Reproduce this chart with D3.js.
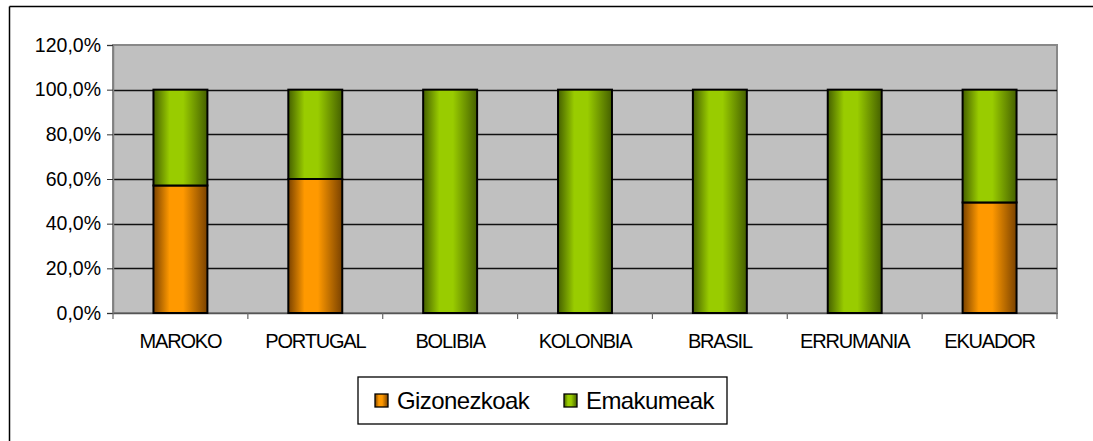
<!DOCTYPE html>
<html>
<head>
<meta charset="utf-8">
<script src="https://cdn.jsdelivr.net/npm/d3@7"></script>
<style>
  body { margin: 0; background: #fff; }
  text { font-family: "Liberation Sans", Arial, sans-serif; fill: #000; }
</style>
</head>
<body>
<div id="chart"></div>
<script>
// data
var countries = ["MAROKO", "PORTUGAL", "BOLIBIA", "KOLONBIA", "BRASIL", "ERRUMANIA", "EKUADOR"];
var gizonezkoak = [57.1, 60.0, 0, 0, 0, 0, 49.5];
var emakumeak = [42.9, 40.0, 100, 100, 100, 100, 50.5];
var seriesNames = ["Gizonezkoak", "Emakumeak"];
var yTicks = [0, 20, 40, 60, 80, 100, 120];

var W = 1093, H = 441;
var plot = {left: 113, top: 45, right: 1057, bottom: 313};

var svg = d3.select("#chart").append("svg")
  .attr("width", W).attr("height", H);

// gradients for the cylinder look
var defs = svg.append("defs");
var grads = [
  {id: "gOrange", dark: "#7a4200", light: "#ff9900"},
  {id: "gGreen", dark: "#456000", light: "#99cc00"}
];
grads.forEach(function(g) {
  var lg = defs.append("linearGradient").attr("id", g.id)
    .attr("x1", "0%").attr("x2", "100%").attr("y1", "0%").attr("y2", "0%");
  lg.append("stop").attr("offset", "0%").attr("stop-color", g.dark);
  lg.append("stop").attr("offset", "30%").attr("stop-color", g.light);
  lg.append("stop").attr("offset", "55%").attr("stop-color", g.light);
  lg.append("stop").attr("offset", "100%").attr("stop-color", g.dark);
});
var fills = ["url(#gOrange)", "url(#gGreen)"];

// outer frame: only top and left edges visible
svg.append("line").attr("x1", 9.5).attr("x2", W).attr("y1", 6.5).attr("y2", 6.5)
  .style("stroke", "#000").style("stroke-width", 1.5);
svg.append("line").attr("x1", 9.5).attr("x2", 9.5).attr("y1", 6.5).attr("y2", H)
  .style("stroke", "#000").style("stroke-width", 1.5);

var x = d3.scaleBand().domain(countries)
  .range([plot.left, plot.right]).paddingInner(0.6).paddingOuter(0.3);
var xb = d3.scaleBand().domain(countries).range([plot.left, plot.right]);
var y = d3.scaleLinear().domain([0, 120]).range([plot.bottom, plot.top]);

// plot background
svg.append("rect")
  .attr("x", plot.left).attr("y", plot.top)
  .attr("width", plot.right - plot.left).attr("height", plot.bottom - plot.top)
  .style("fill", "#c0c0c0").style("stroke", "#888").style("stroke-width", 2);

// gridlines
svg.append("g").selectAll("line")
  .data(yTicks.filter(function(d) { return d > 0 && d < 120; }))
  .enter().append("line")
  .attr("x1", plot.left).attr("x2", plot.right)
  .attr("y1", function(d) { return Math.round(y(d)) + 0.5; })
  .attr("y2", function(d) { return Math.round(y(d)) + 0.5; })
  .style("stroke", "#111").style("stroke-width", 1.3);

// y axis
var yAxis = svg.append("g")
  .attr("transform", "translate(" + plot.left + ",0)")
  .call(d3.axisLeft(y).tickValues(yTicks).tickSize(6).tickPadding(6)
    .tickFormat(function(d) { return d.toFixed(1).replace(".", ",") + "%"; }));
yAxis.select(".domain").style("stroke", "#808080").style("stroke-width", 1.5);
yAxis.selectAll(".tick line").style("stroke", "#333");
yAxis.selectAll("text").style("font-size", "19.5px").style("font-family", "Liberation Sans, Arial, sans-serif");

// x axis
var xAxis = svg.append("g")
  .attr("transform", "translate(0," + plot.bottom + ")")
  .call(d3.axisBottom(xb).tickSize(0).tickPadding(21));
xAxis.select(".domain").style("stroke", "#555").style("stroke-width", 1.5);
xAxis.selectAll("text").style("font-size", "20px").style("letter-spacing", "-1.2px")
  .style("font-family", "Liberation Sans, Arial, sans-serif");
// ticks between categories
svg.append("g").selectAll("line")
  .data(countries.concat(["end"]))
  .enter().append("line")
  .attr("x1", function(d, i) { return i < countries.length ? xb(d) : plot.right; })
  .attr("x2", function(d, i) { return i < countries.length ? xb(d) : plot.right; })
  .attr("y1", plot.bottom).attr("y2", plot.bottom + 6)
  .style("stroke", "#666").style("stroke-width", 1.2);

// stacked bars
var rows = countries.map(function(c, i) {
  return {country: c, Gizonezkoak: gizonezkoak[i], Emakumeak: emakumeak[i]};
});
var stack = d3.stack().keys(seriesNames)(rows);

svg.append("g").selectAll("g")
  .data(stack).enter().append("g")
  .style("fill", function(d, i) { return fills[i]; })
  .selectAll("rect")
  .data(function(d) { return d.filter(function(p) { return p[1] - p[0] > 0; }); })
  .enter().append("rect")
  .attr("x", function(d) { return x(d.data.country); })
  .attr("width", x.bandwidth())
  .attr("y", function(d) { return y(d[1]); })
  .attr("height", function(d) { return y(d[0]) - y(d[1]); })
  .style("stroke", "#000").style("stroke-width", 2);

// legend
var legend = svg.append("g");
legend.append("rect")
  .attr("x", 358).attr("y", 377).attr("width", 369).attr("height", 47)
  .style("fill", "#fff").style("stroke", "#000").style("stroke-width", 1.3);
var items = legend.selectAll("g.item")
  .data(seriesNames).enter().append("g")
  .attr("transform", function(d, i) { return "translate(" + (375 + i * 189) + ",394)"; });
items.append("rect")
  .attr("width", 13).attr("height", 13)
  .style("fill", function(d, i) { return fills[i]; })
  .style("stroke", "#000").style("stroke-width", 1.3);
items.append("text")
  .attr("x", 22).attr("y", 14.5)
  .style("font-size", "24px").style("letter-spacing", "-0.6px")
  .text(function(d) { return d; });
</script>
</body>
</html>
